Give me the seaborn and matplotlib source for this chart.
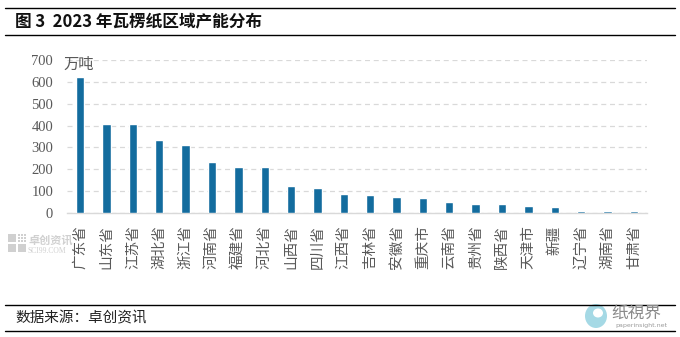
import matplotlib
matplotlib.use("Agg")
import matplotlib.pyplot as plt
import seaborn as sns
import pandas as pd
from matplotlib.lines import Line2D
from matplotlib.patches import Rectangle, Ellipse

provinces = ["广东省", "山东省", "江苏省", "湖北省", "浙江省", "河南省", "福建省", "河北省",
             "山西省", "四川省", "江西省", "吉林省", "安徽省", "重庆市", "云南省", "贵州省",
             "陕西省", "天津市", "新疆", "辽宁省", "湖南省", "甘肃省"]
capacity = [623, 405, 405, 335, 312, 234, 211, 211, 125, 115, 88, 84, 74, 70, 52, 43,
            43, 33, 29, 10, 10, 10]
yticks = [0, 100, 200, 300, 400, 500, 600, 700]

sns.set_theme(style="white")
plt.rcParams['font.family'] = ['Noto Sans CJK SC', 'DejaVu Sans']

df = pd.DataFrame({"province": provinces, "capacity": capacity})

W, H = 680, 337
def fx(x): return x / W
def fy(y): return 1 - y / H

fig = plt.figure(figsize=(6.8, 3.37), dpi=100)

# Watermark (faint, left of the category labels)
wm = "#d0d0d0"
for (x0, y0, w, h) in [(8, 234, 8, 8), (8, 244, 8, 8), (18, 244, 8, 8)]:
    fig.add_artist(Rectangle((fx(x0), fy(y0 + h)), w / W, h / H, transform=fig.transFigure,
                             facecolor=wm, edgecolor="none", zorder=0))
for i in range(3):
    for j in range(3):
        fig.add_artist(Rectangle((fx(18 + 3 * i), fy(236 + 3 * j)), 2 / W, 2 / H,
                                 transform=fig.transFigure, facecolor=wm,
                                 edgecolor="none", zorder=0))
fig.text(fx(28), fy(240), "卓创资讯", fontsize=8, fontweight="bold", color=wm,
         ha="left", va="center", zorder=0)
fig.text(fx(28), fy(251), "SCI99.COM", fontsize=5.5, color=wm, ha="left", va="center",
         family=['Liberation Serif', 'DejaVu Serif'], zorder=0)

ax = fig.add_axes([fx(67), fy(213), (647 - 67) / W, (213 - 60) / H])
ax.patch.set_alpha(0)
sns.barplot(data=df, x="province", y="capacity", color="#136C9E", width=0.32,
            saturation=1, ax=ax, zorder=3)
ax.set_xlim(-0.5, 21.5)
ax.set_ylim(0, 700)
ax.set_yticks(yticks)
ax.set_yticklabels([str(v) for v in yticks], fontsize=10.5, color="#595959",
                   family=['Liberation Serif', 'DejaVu Serif'])
ax.set_xticks(range(len(provinces)))
ax.set_xticklabels(provinces, rotation=90, fontsize=10.5, color="#595959", va="top")
ax.tick_params(axis="x", length=0, pad=9)
ax.tick_params(axis="y", length=0, pad=10)
ax.set_xlabel("")
ax.set_ylabel("")
ax.yaxis.grid(True, linestyle=(0, (4, 3)), color="#d9d9d9", linewidth=0.9)
ax.set_axisbelow(True)
for s in ["top", "right", "left"]:
    ax.spines[s].set_visible(False)
ax.spines["bottom"].set_color("#d9d9d9")
ax.spines["bottom"].set_linewidth(1.0)
ax.spines["bottom"].set_zorder(1)

fig.text(fx(63), fy(64), "万吨", fontsize=11, color="#595959", ha="left", va="center")

# Title and frame lines
for yp in [8, 35, 305, 331]:
    fig.add_artist(Line2D([fx(5), fx(675)], [fy(yp), fy(yp)], color="black",
                          linewidth=1.0, transform=fig.transFigure))
fig.text(fx(15), fy(21), "图 3  2023 年瓦楞纸区域产能分布", fontsize=12, fontweight="bold",
         color="#111111", ha="left", va="center")
fig.text(fx(15), fy(318), "数据来源：卓创资讯", fontsize=10.5, color="#222222",
         ha="left", va="center")

# 纸视界 logo
fig.add_artist(Ellipse((fx(596), fy(316)), 22 / W, 24 / H, transform=fig.transFigure,
                       facecolor="#8fd0df", edgecolor="none", alpha=0.8))
fig.add_artist(Ellipse((fx(598), fy(313)), 10 / W, 9 / H, transform=fig.transFigure,
                       facecolor="white", edgecolor="none"))
fig.text(fx(611), fy(313), "纸視界", fontsize=12, color="#8a8a8a",
         ha="left", va="center", family=['Noto Sans CJK TC', 'DejaVu Sans'])
fig.text(fx(615), fy(326), "paperinsight.net", fontsize=4.5, color="#9a9a9a",
         ha="left", va="center", family=['DejaVu Sans'])

fig.savefig("out.png", dpi=100)
